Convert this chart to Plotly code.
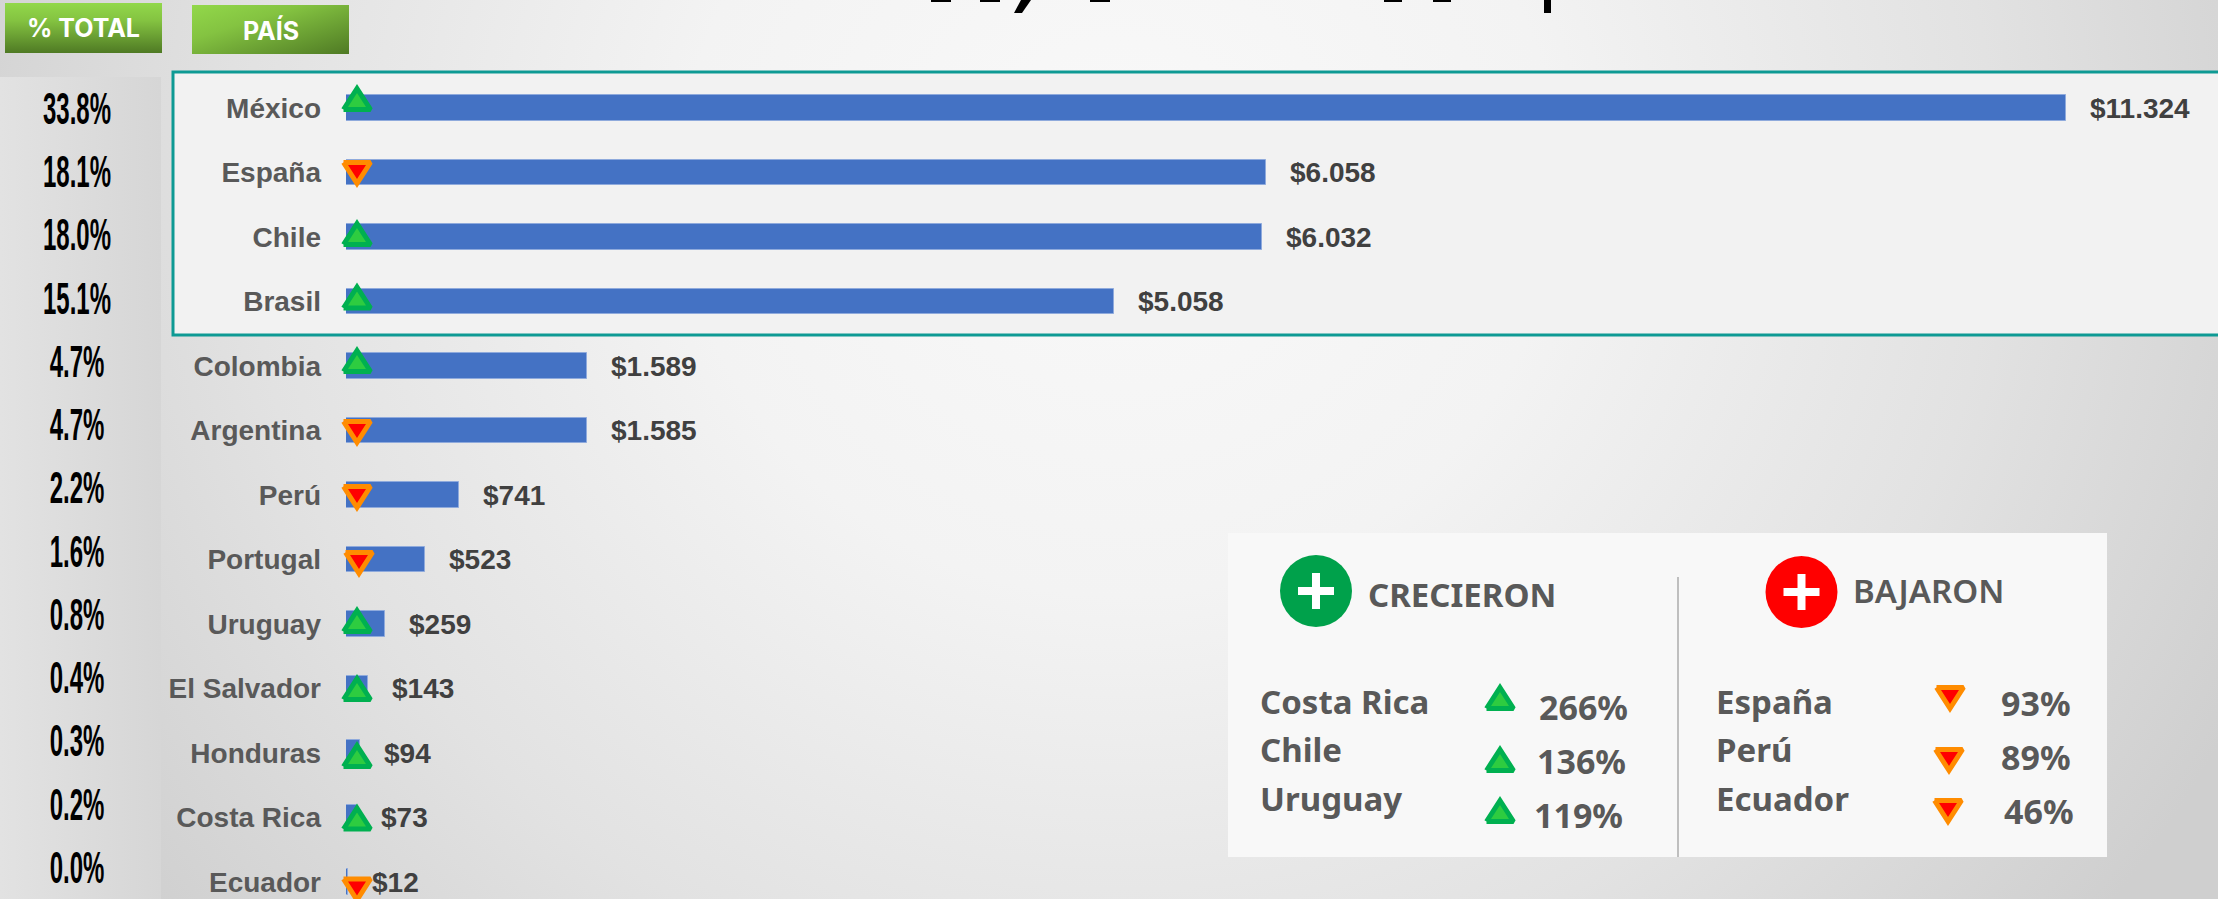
import base64
import plotly.graph_objects as go

# ---------- data ----------
countries = ["México", "España", "Chile", "Brasil", "Colombia", "Argentina", "Perú",
             "Portugal", "Uruguay", "El Salvador", "Honduras", "Costa Rica", "Ecuador"]
sales = [11324, 6058, 6032, 5058, 1589, 1585, 741, 523, 259, 143, 94, 73, 12]
sales_text = ["$11.324", "$6.058", "$6.032", "$5.058", "$1.589", "$1.585", "$741",
              "$523", "$259", "$143", "$94", "$73", "$12"]
shares = ["33.8%", "18.1%", "18.0%", "15.1%", "4.7%", "4.7%", "2.2%", "1.6%",
          "0.8%", "0.4%", "0.3%", "0.2%", "0.0%"]
trend_up = [True, False, True, True, True, False, False, False, True, True, True, True, False]

up_names = ["Costa Rica", "Chile", "Uruguay"]
up_values = ["266%", "136%", "119%"]
down_names = ["España", "Perú", "Ecuador"]
down_values = ["93%", "89%", "46%"]

# ---------- layout constants (pixels of the 2218x899 page) ----------
W, H = 2218, 899
BAR_X0, PX_PER_UNIT = 346, 0.1519
ROW0, ROW_H = 108, 64.5
SHARE0, SHARE_H = 113, 63.25
MARK_X = [357, 357, 357, 357, 357, 357, 357, 359, 357, 357, 357, 357, 357]
MARK_NUDGE = [-9, 0.5, -3, -4, -5, 1.5, 2, 3.5, -3, 0.5, 3, 1, 7.5]
LAB = "#595959"
VAL = "#404040"
UP_FILL, UP_LINE = "#2ECC40", "#00B050"
DN_FILL, DN_LINE = "#FF0000", "#FF8C00"


def svg_uri(svg):
    return "data:image/svg+xml;base64," + base64.b64encode(svg.encode()).decode()


bg_svg = f'''<svg xmlns="http://www.w3.org/2000/svg" width="{W}" height="{H}" viewBox="0 0 {W} {H}" preserveAspectRatio="none">
<defs><radialGradient id="g" gradientUnits="userSpaceOnUse" cx="1120" cy="180" r="1250"
 gradientTransform="translate(1120 180) scale(1 0.95) translate(-1120 -180)">
<stop offset="0" stop-color="#f9f9f9"/><stop offset="0.35" stop-color="#f3f3f3"/>
<stop offset="0.7" stop-color="#e2e2e2"/><stop offset="1" stop-color="#cfcfcf"/></radialGradient></defs>
<rect width="{W}" height="{H}" fill="url(#g)"/></svg>'''

col_svg = '''<svg xmlns="http://www.w3.org/2000/svg" width="161" height="822" viewBox="0 0 161 822" preserveAspectRatio="none">
<defs><linearGradient id="g" x1="0" x2="1" y1="0" y2="0"><stop offset="0" stop-color="#e2e2e2"/>
<stop offset="1" stop-color="#d6d6d6"/></linearGradient></defs><rect width="161" height="822" fill="url(#g)"/></svg>'''


def button_svg(x2, y2):
    return f'''<svg xmlns="http://www.w3.org/2000/svg" width="157" height="50" viewBox="0 0 157 50" preserveAspectRatio="none">
<defs><linearGradient id="g" x1="0" y1="0" x2="{x2}" y2="{y2}"><stop offset="0" stop-color="#92D84A"/>
<stop offset="0.35" stop-color="#84C341"/><stop offset="1" stop-color="#4F7A24"/></linearGradient></defs>
<rect width="157" height="50" fill="url(#g)"/></svg>'''


def img(svg, x, y, w, h):
    return dict(source=svg_uri(svg), xref="paper", yref="paper", x=x / W, y=1 - y / H,
                sizex=w / W, sizey=h / H, xanchor="left", yanchor="top", sizing="stretch", layer="below")


def rect(x0, y0, x1, y1, fill=None, line=None, lw=0):
    return dict(type="rect", xref="paper", yref="paper", x0=x0 / W, y0=1 - y0 / H, x1=x1 / W, y1=1 - y1 / H,
                layer="below", fillcolor=fill or "rgba(0,0,0,0)", line=dict(color=line or "rgba(0,0,0,0)", width=lw))


def disc(cx, cy, r, fill):
    return dict(type="circle", xref="paper", yref="paper", x0=(cx - r) / W, x1=(cx + r) / W,
                y0=1 - (cy - r) / H, y1=1 - (cy + r) / H, layer="below", fillcolor=fill, line=dict(width=0))


def note(text, x, y, size, color, family="Liberation Sans", anchor="left", weight=700):
    return dict(text=text, x=x, y=y, xref="x2", yref="y2", xanchor=anchor, yanchor="middle", showarrow=False,
                font=dict(family=family, size=size, color=color, weight=weight))


def triangles(centres, up, fill, line):
    """One filled, round-joined trace holding a triangle icon at each (x, y) centre."""
    xs, ys = [], []
    s = 1 if up else -1
    for cx, cy in centres:
        xs += [cx - 13.5, cx + 13.5, cx, cx - 13.5, None]
        ys += [cy + s * 10.5, cy + s * 10.5, cy - s * 10.5, cy + s * 10.5, None]
    return go.Scatter(x=xs, y=ys, mode="lines", fill="toself", fillcolor=fill, xaxis="x2", yaxis="y2",
                      line=dict(color=line, width=5), hoverinfo="skip")


fig = go.Figure()

fig.add_bar(y=list(range(len(countries))), x=sales, orientation="h", width=0.4,
            marker=dict(color="#4472C4", line=dict(color="#8FAADC", width=1)),
            xaxis="x", yaxis="y", hoverinfo="skip")

# trend icons on the bars
mark_xy = [(MARK_X[i], ROW0 + ROW_H * i + MARK_NUDGE[i]) for i in range(len(countries))]
fig.add_trace(triangles([p for p, t in zip(mark_xy, trend_up) if t], True, UP_FILL, UP_LINE))
fig.add_trace(triangles([p for p, t in zip(mark_xy, trend_up) if not t], False, DN_FILL, DN_LINE))

# share column (tall condensed type: see post_script below)
fig.add_scatter(x=[77] * len(shares), y=list(range(len(shares))), text=shares, mode="text",
                textposition="middle center", xaxis="x2", yaxis="y3", hoverinfo="skip",
                textfont=dict(family="Liberation Sans", size=44, color="#000000", weight=700))

# panel triangles
py = [698, 760, 811]
fig.add_trace(triangles([(1500, v) for v in py], True, UP_FILL, UP_LINE))
fig.add_trace(triangles(list(zip([1950, 1949, 1948], py)), False, DN_FILL, DN_LINE))

shapes = [
    rect(173, 72, W + 10, 335, fill="#F2F2F2", line="#0E9A94", lw=3),
    rect(1228, 533, 2107, 857, fill="#F8F8F8"),
    rect(1677, 577, 1679, 857, fill="#BFBFBF"),
    disc(1316, 591, 36, "#00A14B"),
    disc(1801.5, 592, 36, "#FF0000"),
    rect(1298, 587, 1334, 595, fill="#FFFFFF"),
    rect(1312, 573, 1320, 609, fill="#FFFFFF"),
    rect(1783.5, 588, 1819.5, 596, fill="#FFFFFF"),
    rect(1797.5, 574, 1805.5, 610, fill="#FFFFFF"),
    # what remains visible of the clipped title
    dict(type="path", xref="paper", yref="paper", layer="below", fillcolor="#000000", line=dict(width=0),
         path=f"M {1021 / W} 1 L {1031 / W} 1 L {1022 / W} {1 - 13 / H} L {1014 / W} {1 - 13 / H} Z"),
    rect(1544, 0, 1551, 13, fill="#000000"),
]
for x0, x1 in ((931, 951), (980, 1000), (1090, 1110), (1384, 1402), (1433, 1451)):
    shapes.append(rect(x0, 0, x1, 2, fill="#000000"))

annotations = []
for i, (v, t) in enumerate(zip(sales, sales_text)):
    annotations.append(dict(text=t, x=v, y=i, xref="x", yref="y", xanchor="left", yanchor="middle", xshift=22,
                            showarrow=False, font=dict(family="Liberation Sans", size=28, color=VAL, weight=700)))

annotations += [
    note("% TOTAL", 83, 28, 25, "#FFFFFF", "Inter", "center"),
    note("PAÍS", 271, 30, 25, "#FFFFFF", "Inter", "center"),
    note("CRECIERON", 1366, 594, 33, LAB, "Noto Sans"),
    note("BAJARON", 1851, 590, 33, LAB, "Noto Sans", weight=600),
]
name_y = [701, 749, 798]
for n, y in zip(up_names, name_y):
    annotations.append(note(n, 1258, y, 33, LAB, "Noto Sans"))
for n, y in zip(down_names, name_y):
    annotations.append(note(n, 1714, y, 33, LAB, "Noto Sans"))
for t, x, y in zip(up_values, [1583, 1581, 1578], [707, 761, 815]):
    annotations.append(note(t, x, y, 34, LAB, "Noto Sans", "center"))
for t, x, y in zip(down_values, [2036, 2036, 2039], [703, 757, 811]):
    annotations.append(note(t, x, y, 34, LAB, "Noto Sans", "center"))

fig.update_layout(
    width=W, height=H, autosize=False, margin=dict(l=0, r=0, t=0, b=0), showlegend=False, bargap=0,
    paper_bgcolor="#FFFFFF", plot_bgcolor="rgba(0,0,0,0)", dragmode=False,
    images=[img(bg_svg, 0, 0, W, H), img(col_svg, 0, 77, 161, 822),
            img(button_svg(0, 1), 5, 3, 157, 50), img(button_svg(1, 1), 192, 5, 157, 49)],
    shapes=shapes, annotations=annotations,
    xaxis=dict(domain=[BAR_X0 / W, 1], range=[0, (W - BAR_X0) / PX_PER_UNIT], visible=False, fixedrange=True),
    yaxis=dict(domain=[0, 1], range=[(H - ROW0) / ROW_H, -ROW0 / ROW_H], anchor="x", fixedrange=True,
               tickmode="array", tickvals=list(range(len(countries))), ticktext=countries,
               showgrid=False, zeroline=False, showline=False, ticks="", ticklabelstandoff=24,
               tickfont=dict(family="Liberation Sans", size=28, color=LAB, weight=700)),
    xaxis2=dict(domain=[0, 1], range=[0, W], visible=False, anchor="y2", fixedrange=True),
    yaxis2=dict(domain=[0, 1], range=[H, 0], visible=False, anchor="x2", fixedrange=True),
    yaxis3=dict(domain=[0, 1], range=[(H - SHARE0) / SHARE_H, -SHARE0 / SHARE_H], visible=False,
                anchor="x2", fixedrange=True),
)

post = """
document.body.style.margin = '0';
document.querySelectorAll('.textpoint text').forEach(function (t) {
  t.style.transformBox = 'fill-box';
  t.style.transformOrigin = 'center';
  t.style.transform = 'scaleX(0.545)';
});
"""
fig.write_html("out.html", config={"displayModeBar": False}, post_script=post)
